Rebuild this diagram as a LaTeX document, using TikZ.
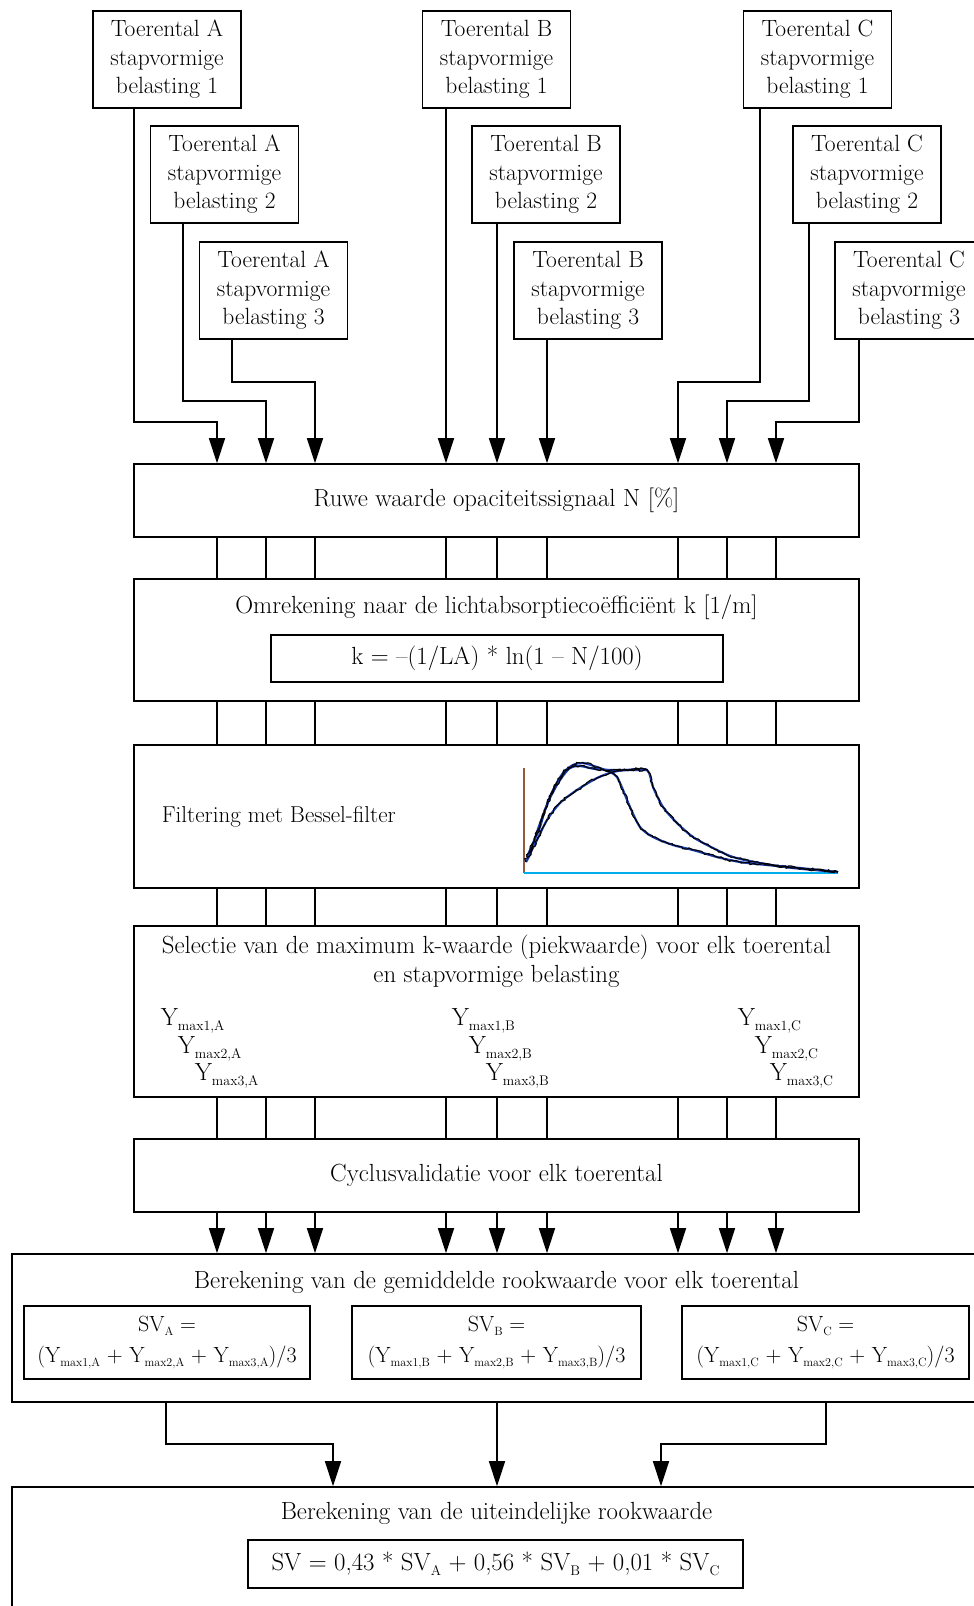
\documentclass[tikz,border=0pt]{standalone}
\usetikzlibrary{arrows.meta,decorations.pathmorphing}
\newcommand\fz{\fontsize{24.8}{28.5}\selectfont}
\newcommand\fzt{\fontsize{23.5}{28.5}\selectfont}
\newcommand\fzs{\fontsize{23}{31}\selectfont}
\newcommand\fzv{\fontsize{22}{31}\selectfont}
\newcommand\ysub[1]{\raisebox{-5pt}{\fontsize{14}{14}\selectfont #1}}
\newcommand\vsub[1]{\raisebox{-4.5pt}{\fontsize{12}{12}\selectfont #1}}
\begin{document}
\begin{tikzpicture}[x=1pt,y=-1pt,line width=1.6pt,
  box/.style={draw,line width=1.6pt,inner sep=0pt,align=center,font=\fz},
  topbox/.style={box,font=\fzt,minimum width=148pt,minimum height=97pt},
  mainbox/.style={box,minimum width=725pt},
  svbox/.style={box,font=\fzv,minimum height=73pt},
  txt/.style={inner sep=0pt,font=\fz,align=center},
  arr/.style={-{Triangle[width=16pt,length=25pt]}},
  curveA/.style={line width=2.2pt,draw={rgb,255:red,25;green,60;blue,170}},
  curveB/.style={line width=1.1pt,draw=black,decorate,decoration={random steps,segment length=2.5pt,amplitude=1.3pt}},
]
\pgfmathsetseed{7}
\useasboundingbox (0,0) rectangle (974,1606);
\fill[white] (0,0) rectangle (974,1606);
\clip (0,0) rectangle (974,1606);

% top input boxes
\node[topbox] (A1) at (167,59.5) {Toerental A\\stapvormige\\belasting 1};
\node[topbox] (A2) at (224.5,174.5) {Toerental A\\stapvormige\\belasting 2};
\node[topbox] (A3) at (273.5,290.5) {Toerental A\\stapvormige\\belasting 3};
\node[topbox] (B1) at (496.5,59.5) {Toerental B\\stapvormige\\belasting 1};
\node[topbox] (B2) at (546,174.5) {Toerental B\\stapvormige\\belasting 2};
\node[topbox] (B3) at (588,290.5) {Toerental B\\stapvormige\\belasting 3};
\node[topbox] (C1) at (817.5,59.5) {Toerental C\\stapvormige\\belasting 1};
\node[topbox] (C2) at (867,174.5) {Toerental C\\stapvormige\\belasting 2};
\node[topbox] (C3) at (909,290.5) {Toerental C\\stapvormige\\belasting 3};

% main chain
\node[mainbox,minimum height=73pt] (R) at (496.5,500.5) {Ruwe waarde opaciteitssignaal N [\%]};
\node[mainbox,minimum height=122pt] (O) at (496.5,640) {};
\node[txt] (Ot) at (496.5,607) {Omrekening naar de lichtabsorptiecoëfficiënt k [1/m]};
\node[box,minimum width=452pt,minimum height=47pt] (Of) at (497,658.5) {k = --(1/LA) * ln(1 -- N/100)};
\node[mainbox,minimum height=143pt] (Fi) at (496.5,816.5) {};
\node[txt,font=\fzs,anchor=west] (Fit) at (161,817) {Filtering met Bessel-filter};
\node[mainbox,minimum height=171pt] (S) at (496.5,1011.5) {};
\node[txt] (St) at (496.5,961) {Selectie van de maximum k-waarde (piekwaarde) voor elk toerental\\en stapvormige belasting};
\node[txt,anchor=base west] (Y1A) at (160,1025) {Y\ysub{max1,A}};
\node[txt,anchor=base west] (Y2A) at (177,1053) {Y\ysub{max2,A}};
\node[txt,anchor=base west] (Y3A) at (194,1080) {Y\ysub{max3,A}};
\node[txt,anchor=base west] (Y1B) at (451,1025) {Y\ysub{max1,B}};
\node[txt,anchor=base west] (Y2B) at (468,1053) {Y\ysub{max2,B}};
\node[txt,anchor=base west] (Y3B) at (485,1080) {Y\ysub{max3,B}};
\node[txt,anchor=base west] (Y1C) at (737,1025) {Y\ysub{max1,C}};
\node[txt,anchor=base west] (Y2C) at (754,1053) {Y\ysub{max2,C}};
\node[txt,anchor=base west] (Y3C) at (769,1080) {Y\ysub{max3,C}};
\node[mainbox,minimum height=73pt] (Cy) at (496.5,1175.5) {Cyclusvalidatie voor elk toerental};

% averaging box
\node[box,minimum width=969pt,minimum height=148pt] (Be) at (496.5,1328) {};
\node[txt] (Bet) at (496.5,1282) {Berekening van de gemiddelde rookwaarde voor elk toerental};
\node[svbox,minimum width=286pt] (SVA) at (167,1342.5) {SV\vsub{A} =\\(Y\vsub{max1,A} + Y\vsub{max2,A} + Y\vsub{max3,A})/3};
\node[svbox,minimum width=289pt] (SVB) at (496.5,1342.5) {SV\vsub{B} =\\(Y\vsub{max1,B} + Y\vsub{max2,B} + Y\vsub{max3,B})/3};
\node[svbox,minimum width=287pt] (SVC) at (825.5,1342.5) {SV\vsub{C} =\\(Y\vsub{max1,C} + Y\vsub{max2,C} + Y\vsub{max3,C})/3};

% final box
\node[box,minimum width=969pt,minimum height=160pt] (Fn) at (496.5,1567) {};
\node[txt] (Fnt) at (496.5,1513) {Berekening van de uiteindelijke rookwaarde};
\node[box,minimum width=495pt,minimum height=48pt] (Fnf) at (495.5,1564) {SV = 0,43 * SV\ysub{A} + 0,56 * SV\ysub{B} + 0,01 * SV\ysub{C}};

% chart inside filtering box
\draw[line width=1.4pt,draw={rgb,255:red,150;green,90;blue,60}] (524,768) -- (524,873);
\draw[line width=1.8pt,cyan] (524,873) -- (838,873);
\foreach \st in {curveA,curveB}{
\draw[\st] plot[smooth,tension=0.5] coordinates {(527,857) (533,843) (540,827) (545,810) (553,790) (563,773) (573,765) (583,763) (597,767) (610,772) (617,777) (623,790) (630,807) (640,827) (653,837) (673,845) (693,850) (717,857) (740,862) (767,865) (800,868) (838,872)};
\draw[\st] plot[smooth,tension=0.5] coordinates {(530,853) (537,840) (547,820) (560,803) (577,790) (597,778) (613,772) (627,770) (647,770) (653,787) (663,807) (677,823) (693,837) (713,848) (733,857) (760,863) (793,868) (838,872)};
\draw[\st] plot[smooth,tension=0.5] coordinates {(526,862) (531,852) (536,835) (542,818) (550,798) (560,780) (570,768) (580,766) (595,769) (612,770) (630,770) (647,770)};
}

% input arrows
\draw[arr] (134,0 |- A1.south) |- (217,422) -- (217,0 |- R.north);
\draw[arr] (183,0 |- A2.south) |- (266,401) -- (266,0 |- R.north);
\draw[arr] (232,0 |- A3.south) |- (315,382) -- (315,0 |- R.north);
\draw[arr] (446,0 |- B1.south) -- (446,0 |- R.north);
\draw[arr] (497,0 |- B2.south) -- (497,0 |- R.north);
\draw[arr] (547,0 |- B3.south) -- (547,0 |- R.north);
\draw[arr] (760,0 |- C1.south) |- (678,382) -- (678,0 |- R.north);
\draw[arr] (809,0 |- C2.south) |- (727,401) -- (727,0 |- R.north);
\draw[arr] (859,0 |- C3.south) |- (776,422) -- (776,0 |- R.north);

% chain links
\foreach \xx in {217,266,315,446,497,547,678,727,776}{
  \draw (\xx,0 |- R.south) -- (\xx,0 |- O.north);
  \draw (\xx,0 |- O.south) -- (\xx,0 |- Fi.north);
  \draw (\xx,0 |- Fi.south) -- (\xx,0 |- S.north);
  \draw (\xx,0 |- S.south) -- (\xx,0 |- Cy.north);
  \draw[arr] (\xx,0 |- Cy.south) -- (\xx,0 |- Be.north);
}

% to final box
\draw[arr] (166,0 |- Be.south) |- (333,1444) -- (333,0 |- Fn.north);
\draw[arr] (497,0 |- Be.south) -- (497,0 |- Fn.north);
\draw[arr] (826,0 |- Be.south) |- (661,1444) -- (661,0 |- Fn.north);
\end{tikzpicture}
\end{document}
